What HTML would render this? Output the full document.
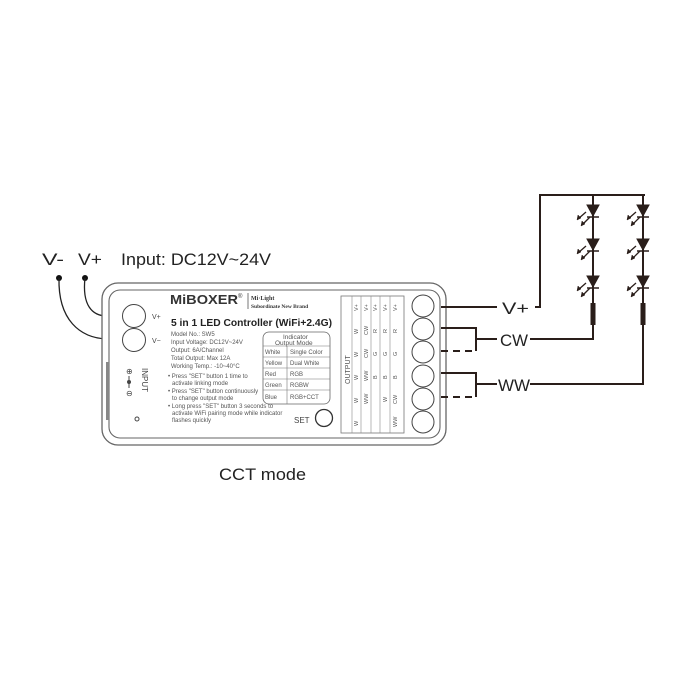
<!DOCTYPE html>
<html><head><meta charset="utf-8"><style>html,body{margin:0;padding:0;background:#fff}svg{display:block}</style></head>
<body>
<svg width="700" height="700" viewBox="0 0 700 700" xmlns="http://www.w3.org/2000/svg" font-family="Liberation Sans, sans-serif">
<rect width="700" height="700" fill="#fff"/>
<!-- top labels -->
<text x="42" y="265" font-size="17" fill="#222" textLength="22" lengthAdjust="spacingAndGlyphs">V-</text>
<text x="78" y="265" font-size="17" fill="#222" textLength="24" lengthAdjust="spacingAndGlyphs">V+</text>
<text x="121" y="265" font-size="17" fill="#222" textLength="150" lengthAdjust="spacingAndGlyphs">Input: DC12V~24V</text>
<circle cx="59" cy="278" r="3" fill="#111"/><circle cx="85" cy="278" r="3" fill="#111"/>
<path d="M59 278 C58 320 80 338 107 339" fill="none" stroke="#222" stroke-width="1.3"/>
<path d="M85 278 C82 305 92 316 107 316" fill="none" stroke="#222" stroke-width="1.3"/>
<rect x="105" y="306" width="4" height="16" fill="#444"/><rect x="105" y="330" width="4" height="16" fill="#444"/>
<!-- box -->
<rect x="102" y="283" width="344" height="162" rx="16" fill="#fff" stroke="#666" stroke-width="1.3"/>
<rect x="109" y="290" width="331" height="148" rx="11" fill="none" stroke="#666" stroke-width="1.1"/>
<rect x="106" y="362" width="3" height="58" fill="#888"/>
<circle cx="134" cy="316" r="11.5" fill="none" stroke="#444" stroke-width="1"/>
<circle cx="134" cy="340" r="11.5" fill="none" stroke="#444" stroke-width="1"/>
<text x="152" y="319" font-size="7" fill="#444">V+</text><text x="152" y="343" font-size="7" fill="#444">V−</text>
<text transform="translate(142,368) rotate(90)" font-size="8" fill="#444">INPUT</text>
<text x="126" y="374" font-size="8" fill="#444">⊕</text><line x1="129" y1="376" x2="129" y2="388" stroke="#444"/><circle cx="129" cy="382" r="2" fill="#444"/><text x="126" y="396" font-size="8" fill="#444">⊖</text>
<circle cx="137" cy="419" r="2" fill="none" stroke="#444"/>
<text x="170" y="304" font-size="13" font-weight="bold" fill="#333" textLength="68" lengthAdjust="spacingAndGlyphs">MiBOXER</text>
<text x="238" y="298" font-size="6" fill="#333">®</text>
<line x1="248" y1="293" x2="248" y2="309" stroke="#555" stroke-width="0.8"/>
<text x="251" y="300" font-size="6" font-family="Liberation Serif, serif" font-weight="bold" fill="#333">Mi·Light</text>
<text x="251" y="308" font-size="5.5" font-family="Liberation Serif, serif" font-weight="bold" fill="#333">Subordinate New Brand</text>
<text x="171" y="326" font-size="10.5" font-weight="bold" fill="#222" textLength="161" lengthAdjust="spacingAndGlyphs">5 in 1 LED Controller (WiFi+2.4G)</text>
<g font-size="6" fill="#555">
<text x="171" y="336">Model No.: SW5</text>
<text x="171" y="344">Input Voltage: DC12V~24V</text>
<text x="171" y="352">Output: 6A/Channel</text>
<text x="171" y="360">Total Output: Max 12A</text>
<text x="171" y="368">Working Temp.: -10~40°C</text>
<text x="168" y="378">• Press "SET" button 1 time to</text>
<text x="172" y="385">activate linking mode</text>
<text x="168" y="393">• Press "SET" button continuously</text>
<text x="172" y="400">to change output mode</text>
<text x="168" y="408">• Long press "SET" button 3 seconds to</text>
<text x="172" y="415">activate WiFi pairing mode while indicator</text>
<text x="172" y="422">flashes quickly</text>
</g>
<rect x="263" y="332" width="67" height="72" rx="6" fill="none" stroke="#666" stroke-width="0.8"/>
<g stroke="#777" stroke-width="0.6"><line x1="263" y1="346" x2="330" y2="346"/><line x1="263" y1="357" x2="330" y2="357"/><line x1="263" y1="368" x2="330" y2="368"/><line x1="263" y1="379" x2="330" y2="379"/><line x1="263" y1="390" x2="330" y2="390"/><line x1="287" y1="346" x2="287" y2="404"/></g>
<g font-size="6" fill="#555"><text x="283" y="339" font-size="6.5">Indicator</text><text x="275" y="345" font-size="6.5">Output Mode</text>
<text x="265" y="354">White</text><text x="290" y="354">Single Color</text>
<text x="265" y="365">Yellow</text><text x="290" y="365">Dual White</text>
<text x="265" y="376">Red</text><text x="290" y="376">RGB</text>
<text x="265" y="387">Green</text><text x="290" y="387">RGBW</text>
<text x="265" y="399">Blue</text><text x="290" y="399">RGB+CCT</text></g>
<text x="294" y="423" font-size="8" fill="#444">SET</text>
<circle cx="324" cy="418" r="8.5" fill="none" stroke="#333" stroke-width="1.3"/>
<!-- output table -->
<rect x="341" y="296" width="63" height="137" fill="none" stroke="#777" stroke-width="0.8"/>
<g stroke="#888" stroke-width="0.6"><line x1="352" y1="296" x2="352" y2="433"/><line x1="361" y1="296" x2="361" y2="433"/><line x1="371" y1="296" x2="371" y2="433"/><line x1="380" y1="296" x2="380" y2="433"/><line x1="390" y1="296" x2="390" y2="433"/></g>
<text transform="translate(350,384) rotate(-90)" font-size="7" fill="#555">OUTPUT</text>
<g font-size="5.5" fill="#555">
<g transform="translate(358,0)">
<text transform="translate(0,311) rotate(-90)">V+</text><text transform="translate(0,334) rotate(-90)">W</text><text transform="translate(0,357) rotate(-90)">W</text><text transform="translate(0,380) rotate(-90)">W</text><text transform="translate(0,403) rotate(-90)">W</text><text transform="translate(0,426) rotate(-90)">W</text></g>
<g transform="translate(368,0)">
<text transform="translate(0,311) rotate(-90)">V+</text><text transform="translate(0,335) rotate(-90)">CW</text><text transform="translate(0,358) rotate(-90)">CW</text><text transform="translate(0,381) rotate(-90)">WW</text><text transform="translate(0,404) rotate(-90)">WW</text></g>
<g transform="translate(377,0)">
<text transform="translate(0,311) rotate(-90)">V+</text><text transform="translate(0,333) rotate(-90)">R</text><text transform="translate(0,356) rotate(-90)">G</text><text transform="translate(0,379) rotate(-90)">B</text></g>
<g transform="translate(387,0)">
<text transform="translate(0,311) rotate(-90)">V+</text><text transform="translate(0,333) rotate(-90)">R</text><text transform="translate(0,356) rotate(-90)">G</text><text transform="translate(0,379) rotate(-90)">B</text><text transform="translate(0,402) rotate(-90)">W</text></g>
<g transform="translate(397,0)">
<text transform="translate(0,311) rotate(-90)">V+</text><text transform="translate(0,333) rotate(-90)">R</text><text transform="translate(0,356) rotate(-90)">G</text><text transform="translate(0,379) rotate(-90)">B</text><text transform="translate(0,404) rotate(-90)">CW</text><text transform="translate(0,427) rotate(-90)">WW</text></g>
</g>
<g fill="none" stroke="#444" stroke-width="1"><circle cx="423" cy="306" r="11"/><circle cx="423" cy="329" r="11"/><circle cx="423" cy="352" r="11"/><circle cx="423" cy="376" r="11"/><circle cx="423" cy="399" r="11"/><circle cx="423" cy="422" r="11"/></g>
<!-- output wires -->
<g fill="none" stroke="#2a1e1a" stroke-width="2">
<polyline points="441,307 497,307"/>
<polyline points="535,307 540,307 540,195 645,195"/>
<line x1="593" y1="195" x2="593" y2="303"/><line x1="643" y1="195" x2="643" y2="303"/>
<polyline points="441,328 476,328 476,351"/><polyline points="476,339 497,339"/>
<polyline points="530,339 593,339 593,325"/>
<polyline points="441,373 476,373 476,397"/><polyline points="476,384 497,384"/>
<polyline points="530,384 643,384 643,325"/>
<line x1="441" y1="351" x2="476" y2="351" stroke-dasharray="7,5"/>
<line x1="441" y1="397" x2="476" y2="397" stroke-dasharray="7,5"/>
</g>
<rect x="590.5" y="303" width="5" height="22" fill="#2a1e1a"/><rect x="640.5" y="303" width="5" height="22" fill="#2a1e1a"/>
<g fill="#2a1e1a" stroke="#2a1e1a">
<g id="d"><polygon points="587,205 599,205 593,216"/><line x1="587" y1="217" x2="599" y2="217" stroke-width="1.5"/>
<line x1="586" y1="212" x2="578" y2="219" stroke-width="1.3"/><polygon points="577,220 578,215 581,218" stroke-width="0.5"/>
<line x1="590" y1="217" x2="582" y2="225" stroke-width="1.3"/><polygon points="581,226 582,221 585,224" stroke-width="0.5"/></g>
<use href="#d" y="34"/><use href="#d" y="71"/>
<use href="#d" x="50"/><use href="#d" x="50" y="34"/><use href="#d" x="50" y="71"/>
</g>
<g font-size="17" fill="#222">
<text x="502" y="314" textLength="27" lengthAdjust="spacingAndGlyphs">V+</text>
<text x="500" y="346" textLength="28" lengthAdjust="spacingAndGlyphs">CW</text>
<text x="498" y="391" textLength="32" lengthAdjust="spacingAndGlyphs">WW</text>
</g>
<text x="219" y="480" font-size="17" fill="#222" textLength="87" lengthAdjust="spacingAndGlyphs">CCT mode</text>
</svg>
</body></html>
